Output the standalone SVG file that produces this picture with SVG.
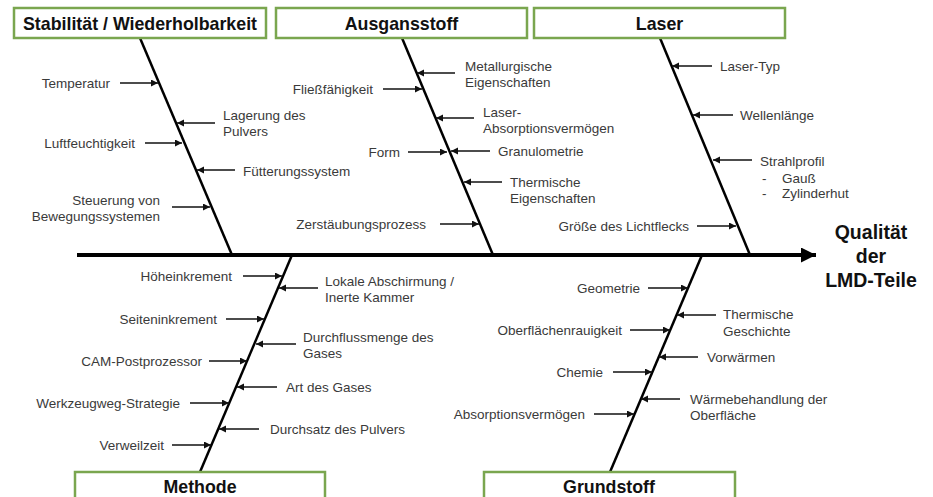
<svg xmlns="http://www.w3.org/2000/svg" width="933" height="497" viewBox="0 0 933 497">
<defs>
<marker id="ah" markerUnits="userSpaceOnUse" markerWidth="8" markerHeight="8" refX="7" refY="3.5" orient="auto">
<path d="M0,0 L7,3.5 L0,7 Z" fill="#111"/>
</marker>
<marker id="big" markerUnits="userSpaceOnUse" markerWidth="16" markerHeight="16" refX="15" refY="7.5" orient="auto">
<path d="M0,0 L15,7.5 L0,15 Z" fill="#000"/>
</marker>
<style>
.box{fill:#fff;stroke:#7aa64f;stroke-width:2.5}
.title{font-family:"Liberation Sans",Arial,sans-serif;font-weight:bold;font-size:17.8px;fill:#111;text-anchor:middle}
.t{font-family:"Liberation Sans",Arial,sans-serif;font-size:13.5px;fill:#3a3a3a}
.r{text-anchor:end}
.bone{stroke:#000;stroke-width:2.5;fill:none}
.arr{stroke:#111;stroke-width:1.6;fill:none;marker-end:url(#ah)}
.res{font-family:"Liberation Sans",Arial,sans-serif;font-weight:bold;font-size:19.5px;fill:#111;text-anchor:middle}
</style>
</defs>
<rect width="933" height="497" fill="#fff"/>

<g id="connectors">
<line x1="77" y1="255" x2="816" y2="255" stroke="#000" stroke-width="4" marker-end="url(#big)"/>
<line class="bone" x1="140" y1="38" x2="232" y2="255"/>
<line class="bone" x1="402" y1="38" x2="493" y2="255"/>
<line class="bone" x1="660" y1="38" x2="750" y2="255"/>
<line class="bone" x1="292" y1="255" x2="200" y2="472"/>
<line class="bone" x1="702" y1="255" x2="610" y2="472"/>
<!-- Stabilitaet -->
<line class="arr" x1="120" y1="83" x2="158" y2="83"/>
<line class="arr" x1="215" y1="123" x2="177" y2="123"/>
<line class="arr" x1="145" y1="143" x2="182" y2="143"/>
<line class="arr" x1="235" y1="170" x2="197" y2="170"/>
<line class="arr" x1="172" y1="207" x2="210" y2="207"/>
<!-- Ausgansstoff -->
<line class="arr" x1="455" y1="73" x2="417" y2="73"/>
<line class="arr" x1="383" y1="89" x2="422" y2="89"/>
<line class="arr" x1="474" y1="118" x2="436" y2="118"/>
<line class="arr" x1="408" y1="152" x2="447" y2="152"/>
<line class="arr" x1="490" y1="151" x2="451" y2="151"/>
<line class="arr" x1="502" y1="182" x2="464" y2="182"/>
<line class="arr" x1="440" y1="224" x2="479" y2="224"/>
<!-- Laser -->
<line class="arr" x1="712" y1="66" x2="672" y2="66"/>
<line class="arr" x1="733" y1="115" x2="693" y2="115"/>
<line class="arr" x1="752" y1="160" x2="713" y2="160"/>
<line class="arr" x1="697" y1="226" x2="736" y2="226"/>
<!-- Methode -->
<line class="arr" x1="243" y1="276" x2="282" y2="276"/>
<line class="arr" x1="318" y1="288" x2="279" y2="288"/>
<line class="arr" x1="226" y1="319" x2="264" y2="319"/>
<line class="arr" x1="296" y1="344" x2="256" y2="344"/>
<line class="arr" x1="209" y1="361" x2="247" y2="361"/>
<line class="arr" x1="277" y1="387" x2="237" y2="387"/>
<line class="arr" x1="190" y1="403" x2="229" y2="403"/>
<line class="arr" x1="259" y1="429" x2="219" y2="429"/>
<line class="arr" x1="172" y1="445" x2="211" y2="445"/>
<!-- Grundstoff -->
<line class="arr" x1="648" y1="288" x2="688" y2="288"/>
<line class="arr" x1="716" y1="315" x2="677" y2="315"/>
<line class="arr" x1="630" y1="330" x2="670" y2="330"/>
<line class="arr" x1="698" y1="357" x2="659" y2="357"/>
<line class="arr" x1="613" y1="372" x2="652" y2="372"/>
<line class="arr" x1="680" y1="399" x2="641" y2="399"/>
<line class="arr" x1="594" y1="414" x2="634" y2="414"/>
</g>

<g id="stabilitaet">
<rect class="box" x="14" y="8" width="252" height="30"/>
<text class="title" x="140" y="30">Stabilität / Wiederholbarkeit</text>
<text class="t r" x="110" y="88">Temperatur</text>
<text class="t" x="223" y="120">Lagerung des</text>
<text class="t" x="223" y="136">Pulvers</text>
<text class="t r" x="135" y="148">Luftfeuchtigkeit</text>
<text class="t" x="243" y="175.5">Fütterungssystem</text>
<text class="t r" x="160" y="205">Steuerung von</text>
<text class="t r" x="160" y="221">Bewegungssystemen</text>
</g>

<g id="ausgansstoff">
<rect class="box" x="276" y="8" width="251" height="30"/>
<text class="title" x="401.5" y="30">Ausgansstoff</text>
<text class="t" x="465" y="71">Metallurgische</text>
<text class="t" x="465" y="87">Eigenschaften</text>
<text class="t r" x="373" y="94">Fließfähigkeit</text>
<text class="t" x="483" y="117">Laser-</text>
<text class="t" x="483" y="132.5">Absorptionsvermögen</text>
<text class="t r" x="400" y="157">Form</text>
<text class="t" x="498" y="156">Granulometrie</text>
<text class="t" x="510" y="187">Thermische</text>
<text class="t" x="510" y="203">Eigenschaften</text>
<text class="t r" x="426" y="229">Zerstäubungsprozess</text>
</g>

<g id="laser">
<rect class="box" x="534" y="8" width="251" height="30"/>
<text class="title" x="659.5" y="30">Laser</text>
<text class="t" x="720" y="71">Laser-Typ</text>
<text class="t" x="740" y="120">Wellenlänge</text>
<text class="t" x="760" y="166">Strahlprofil</text>
<text class="t" x="762" y="182.5">-</text>
<text class="t" x="782" y="182.5">Gauß</text>
<text class="t" x="762" y="198">-</text>
<text class="t" x="782" y="198">Zylinderhut</text>
<text class="t r" x="689" y="231">Größe des Lichtflecks</text>
</g>

<g id="methode">
<rect class="box" x="75" y="472" width="250" height="40"/>
<text class="title" x="200" y="493">Methode</text>
<text class="t r" x="232" y="281">Höheinkrement</text>
<text class="t" x="325" y="286">Lokale Abschirmung /</text>
<text class="t" x="325" y="302">Inerte Kammer</text>
<text class="t r" x="217" y="324">Seiteninkrement</text>
<text class="t" x="303" y="342">Durchflussmenge des</text>
<text class="t" x="303" y="358">Gases</text>
<text class="t r" x="202" y="366">CAM-Postprozessor</text>
<text class="t" x="286" y="392">Art des Gases</text>
<text class="t r" x="180" y="408">Werkzeugweg-Strategie</text>
<text class="t" x="270" y="434">Durchsatz des Pulvers</text>
<text class="t r" x="164" y="450">Verweilzeit</text>
</g>

<g id="grundstoff">
<rect class="box" x="484" y="472" width="251" height="40"/>
<text class="title" x="609" y="493">Grundstoff</text>
<text class="t r" x="640" y="293">Geometrie</text>
<text class="t" x="723" y="319">Thermische</text>
<text class="t" x="723" y="335.5">Geschichte</text>
<text class="t r" x="622" y="335">Oberflächenrauigkeit</text>
<text class="t" x="707" y="362">Vorwärmen</text>
<text class="t r" x="603" y="377">Chemie</text>
<text class="t" x="690" y="404">Wärmebehandlung der</text>
<text class="t" x="690" y="420">Oberfläche</text>
<text class="t r" x="585" y="419">Absorptionsvermögen</text>
</g>

<g id="ergebnis">
<text class="res" x="871" y="238.5">Qualität</text>
<text class="res" x="871" y="262.5">der</text>
<text class="res" x="871" y="286.5">LMD-Teile</text>
</g>
</svg>
